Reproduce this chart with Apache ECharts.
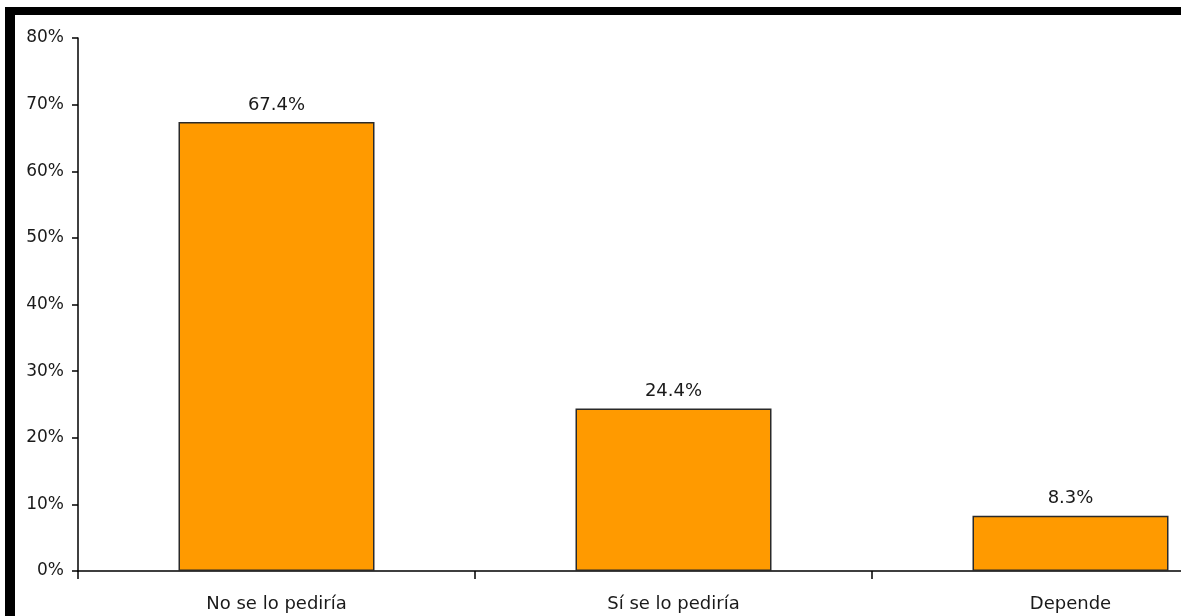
<!DOCTYPE html>
<html>
<head>
<meta charset="utf-8">
<script src="https://cdn.jsdelivr.net/npm/echarts@6/dist/echarts.min.js"></script>
<style>html,body{margin:0;padding:0;background:#fff;overflow:hidden;width:1181px;height:616px;}#c{width:1272px;height:616px;}</style>
</head>
<body>
<div id="c"></div>
<script>
var categories = ['No se lo pediría', 'Sí se lo pediría', 'Depende'];
var values = [67.4, 24.4, 8.3];
var yTicks = [0, 10, 20, 30, 40, 50, 60, 70, 80];

var chart = echarts.init(document.getElementById('c'), null, {renderer: 'canvas'});
var font = 'DejaVu Sans';
chart.setOption({
  animation: false,
  backgroundColor: '#ffffff',
  grid: {left: 78, top: 38, width: 1191, height: 533, containLabel: false},
  xAxis: {
    type: 'category',
    data: categories,
    axisLine: {lineStyle: {color: '#000', width: 1.5}},
    axisTick: {show: true, alignWithLabel: false, length: 8, lineStyle: {color: '#000', width: 1.5}},
    axisLabel: {color: '#1a1a1a', fontFamily: font, fontSize: 18, margin: 24}
  },
  yAxis: {
    type: 'value',
    min: yTicks[0],
    max: yTicks[yTicks.length - 1],
    interval: 10,
    axisLine: {show: true, lineStyle: {color: '#000', width: 1.5}},
    axisTick: {show: true, length: 6, lineStyle: {color: '#000', width: 1.5}},
    splitLine: {show: false},
    axisLabel: {color: '#1a1a1a', fontFamily: font, fontSize: 17, margin: 14, formatter: '{value}%'}
  },
  series: [{
    type: 'bar',
    data: values,
    barWidth: 196,
    itemStyle: {color: '#ff9a00', borderColor: '#2a2a2a', borderWidth: 1.5},
    label: {show: true, position: 'top', distance: 8, color: '#1a1a1a', fontFamily: font, fontSize: 18,
      formatter: function (p) { return p.value.toFixed(1) + '%'; }}
  }],
  graphic: [
    {type: 'rect', shape: {x: 5, y: 7, width: 1176, height: 8}, style: {fill: '#000'}, z: 100},
    {type: 'rect', shape: {x: 5, y: 7, width: 10, height: 609}, style: {fill: '#000'}, z: 100}
  ]
});
</script>
</body>
</html>
